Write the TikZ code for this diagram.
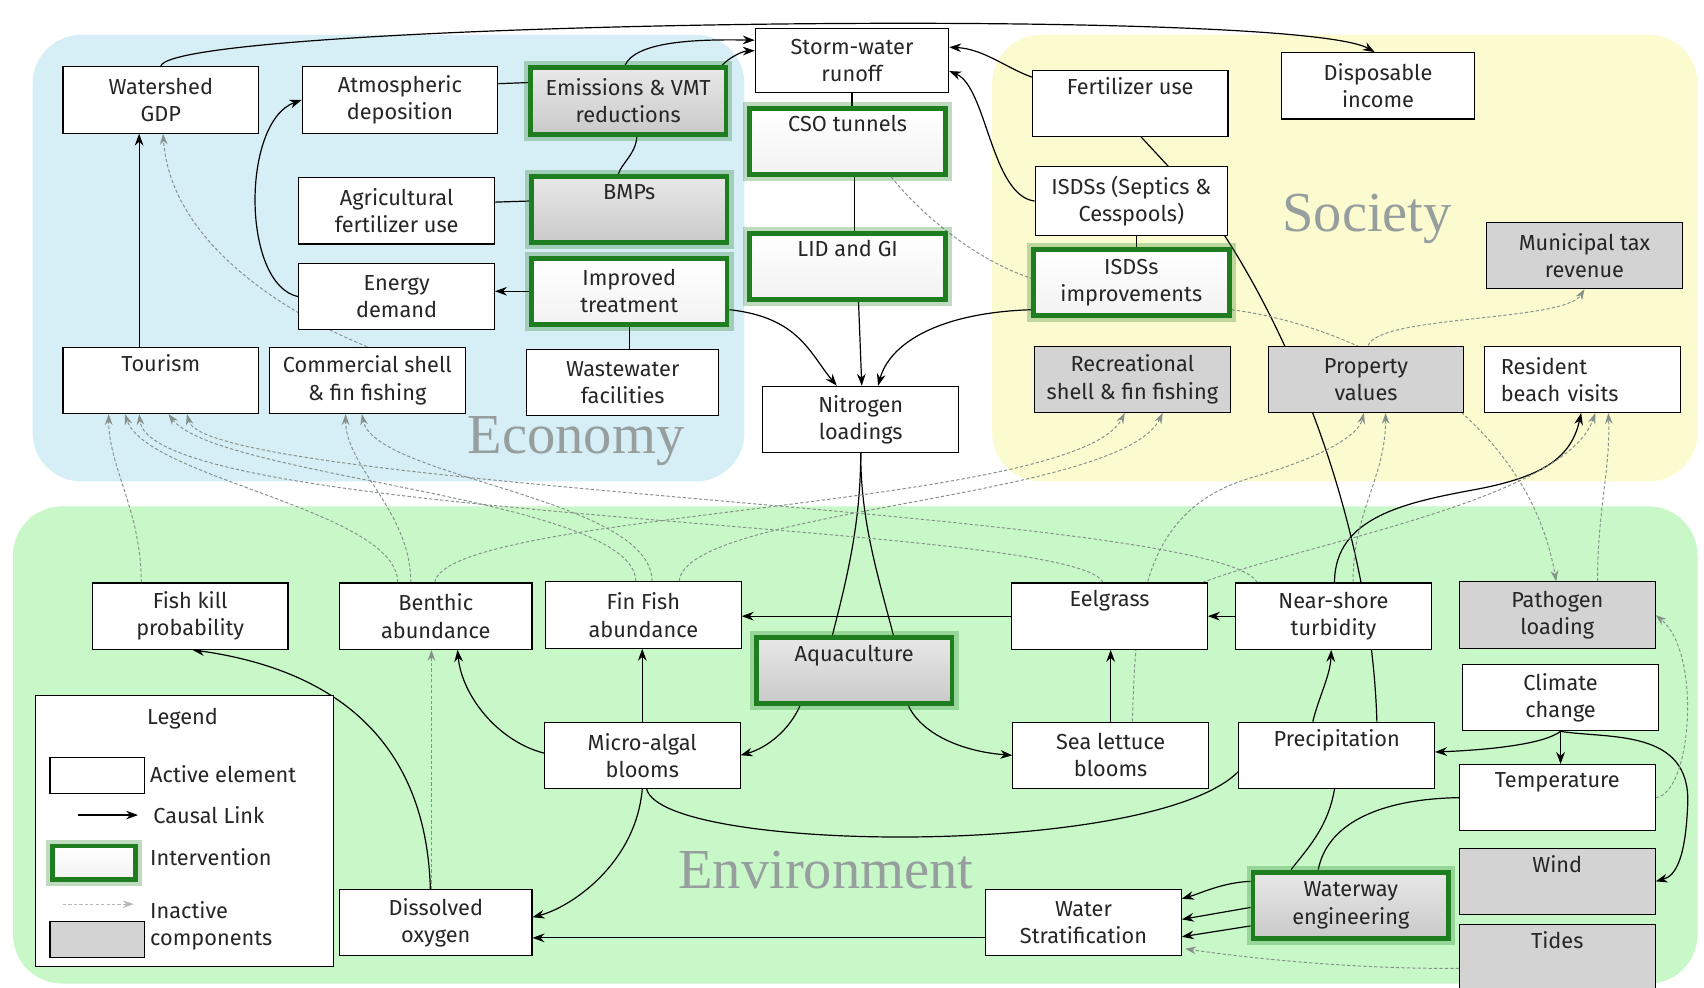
\documentclass[tikz,border=0pt]{standalone}
\usepackage{fontspec}
\setmainfont{Fira Sans}
\newfontfamily\regfont{Liberation Serif}
\usetikzlibrary{arrows.meta,calc}
\pgfdeclarelayer{bg}
\pgfdeclarelayer{edges}
\pgfsetlayers{bg,edges,main}
\definecolor{econ}{RGB}{214,238,245}
\definecolor{soc}{RGB}{252,251,208}
\definecolor{env}{RGB}{200,248,200}
\definecolor{inact}{RGB}{211,211,211}
\definecolor{dgray}{RGB}{135,145,140}
\definecolor{lbl}{RGB}{150,158,158}
\definecolor{ivgreen}{RGB}{30,125,30}
\tikzset{
 box/.style={draw=black, line width=1pt, fill=white, minimum width=180pt, minimum height=61pt, align=center, inner sep=1pt, font=\fontsize{20}{25}\selectfont, text=black!85},
 inbox/.style={box, fill=inact},
 interv/.style={box, draw=ivgreen, line width=4.5pt, minimum width=180pt, minimum height=61pt, preaction={draw=ivgreen, line width=12pt, draw opacity=0.28}},
 intw/.style={interv, top color=white, bottom color=gray!10},
 intg/.style={interv, top color=gray!18, bottom color=gray!42},
 causal/.style={draw=black, line width=1.1pt, -{Stealth[length=11pt,width=8pt]}},
 link/.style={draw=black, line width=1.1pt},
 inactive/.style={draw=dgray, line width=0.9pt, dash pattern=on 3pt off 2pt, -{Stealth[length=10pt,width=7pt]}},
 inline/.style={draw=dgray, line width=0.9pt, dash pattern=on 3pt off 2pt},
 reglabel/.style={font=\regfont\fontsize{52}{52}\selectfont, text=lbl},
 plain/.style={font=\fontsize{20}{25}\selectfont, text=black!85, inner sep=1pt},
}
\begin{document}
\begin{tikzpicture}[x=1pt,y=-1pt]
\useasboundingbox (0,0) rectangle (1568,909);
\begin{pgfonlayer}{bg}
\fill[white] (0,0) rectangle (1568,909);
\fill[econ, rounded corners=45pt] (30,32) rectangle (685,443);
\fill[soc, rounded corners=45pt] (913,32) rectangle (1562,443);
\fill[env, rounded corners=45pt] (12,466) rectangle (1562,905);
\end{pgfonlayer}
\node[reglabel] (econlbl) at (530,406) {Economy};
\node[reglabel] (soclbl) at (1258,201) {Society};
\node[reglabel] (envlbl) at (760,801) {Environment};

% Economy
\node[box] (gdp) at (148,92) {Watershed\\GDP};
\node[box] (atm) at (368,92) {Atmospheric\\deposition};
\node[intg] (emis) at (578,93) {Emissions \& VMT\\reductions};
\node[box, minimum width=178pt, minimum height=59pt] (storm) at (784,56) {Storm-water\\runoff};
\node[intw] (cso) at (780,130) {CSO tunnels\\\strut};
\node[box] (agri) at (365,194) {Agricultural\\fertilizer use};
\node[intg] (bmp) at (579,193) {BMPs\\\strut};
\node[intw] (lid) at (780,245) {LID and GI\\\strut};
\node[box] (energy) at (365,273) {Energy\\demand};
\node[intw] (impr) at (579,268) {Improved\\treatment};
\node[box] (tour) at (148,350) {Tourism\\\strut};
\node[box] (comm) at (338,350) {Commercial shell\\\& fin fishing};
\node[box, minimum width=177pt] (waste) at (573,352) {Wastewater\\facilities};
\node[box] (nitro) at (792,386) {Nitrogen\\loadings};

% Society
\node[box] (fert) at (1040,95) {Fertilizer use\\\strut};
\node[box, minimum width=177pt] (disp) at (1268,79) {Disposable\\income};
\node[box, minimum width=177pt, minimum height=63pt] (isds) at (1041,185) {ISDSs (Septics \&\\Cesspools)};
\node[intw] (isdsi) at (1041,260) {ISDSs\\improvements};
\node[inbox] (muni) at (1458,235) {Municipal tax\\revenue};
\node[inbox] (recr) at (1042,349) {Recreational\\shell \& fin fishing};
\node[inbox] (prop) at (1257,349) {Property\\values};
\node[box, text width=150pt, align=left] (resid) at (1456,349) {Resident\\beach visits};

% Environment
\node[box] (fish) at (175,567) {Fish kill\\probability};
\node[box, minimum width=177pt] (benth) at (401,567) {Benthic\\abundance};
\node[box] (finf) at (592,566) {Fin Fish\\abundance};
\node[intg] (aqua) at (786,617) {Aquaculture\\\strut};
\node[box] (eel) at (1021,567) {Eelgrass\\\strut};
\node[box] (near) at (1227,567) {Near-shore\\turbidity};
\node[inbox] (path) at (1433,566) {Pathogen\\loading};
\node[box] (clim) at (1436,642) {Climate\\change};
\node[box] (micro) at (591,695) {Micro-algal\\blooms};
\node[box] (sea) at (1022,695) {Sea lettuce\\blooms};
\node[box] (prec) at (1230,695) {Precipitation\\\strut};
\node[box] (temp) at (1433,734) {Temperature\\\strut};
\node[inbox] (wind) at (1433,811) {Wind\\\strut};
\node[inbox] (tides) at (1433,881) {Tides\\\strut};
\node[intg] (wway) at (1243,833) {Waterway\\engineering};
\node[box] (strat) at (997,849) {Water\\Stratification};
\node[box, minimum width=177pt] (dox) at (401,849) {Dissolved\\oxygen};

% Legend
\node[draw=black, line width=1pt, fill=white, minimum width=274pt, minimum height=249pt] (legend) at (170,764.5) {};
\node[plain] (legtitle) at (168,661) {Legend};
\node[box, minimum width=87pt, minimum height=33pt] (legact) at (89.5,713.5) {};
\node[plain, anchor=west] (legacttxt) at (137,712) {Active element};
\coordinate (lc1) at (72,750);
\coordinate (lc2) at (127,750);
\node[plain, anchor=west] (legcausal) at (140,750) {Causal Link};
\node[intw, minimum width=76pt, minimum height=31pt] (legint) at (86.5,794) {};
\node[plain, anchor=west] (leginttxt) at (137,789) {Intervention};
\coordinate (li1) at (58,832);
\coordinate (li2) at (123,832);
\node[inbox, minimum width=87pt, minimum height=33pt] (leginact) at (89.5,864.5) {};
\node[plain, anchor=west, align=left] (leginacttxt) at (137,852) {Inactive\\components};
\draw[causal] (lc1) -- (lc2);
\draw[inactive, draw=gray!55] (li1) -- (li2);

\begin{pgfonlayer}{edges}
% black causal links and plain links
\draw[causal] (gdp.north) .. controls (155,20) and (1190,5) .. ($(disp.north)+(-3,0)$);
\draw[causal] ($(emis.north)+(-3,0)$) .. controls (585,38) and (640,36) .. (storm.168);
\draw[causal] ($(emis.north east)+(-6,0)$) .. controls (672,52) and (684,47) .. (storm.174);
\draw[link] ($(atm.east)+(0,-15)$) -- ($(emis.west)+(0,-17)$);
\draw[link] ($(agri.east)+(0,-8)$) -- ($(bmp.west)+(0,-8)$);
\draw[link] ($(emis.south)+(8,0)$) .. controls (585,142) and (572,150) .. ($(bmp.north)+(-10,0)$);
\draw[link] (impr.south) -- (impr.south |- waste.north);
\draw[causal] (impr.west) -- (energy.east |- impr.west);
\draw[causal] (energy.west) .. controls (222,262) and (222,112) .. (atm.west);
\draw[causal] ($(tour.north)+(-20,0)$) -- ($(gdp.south)+(-20,0)$);
\draw[link] (storm.south) -- (storm.south |- cso.north);
\draw[link] ($(cso.south)+(6,0)$) -- ($(lid.north)+(6,0)$);
\draw[causal] ($(lid.south)+(10,0)$) -- ($(nitro.north)+(1,0)$);
\draw[causal] ($(impr.east)+(0,17)$) .. controls (735,292) and (745,325) .. ($(nitro.north)+(-22,0)$);
\draw[causal] ($(isdsi.west)+(0,25)$) .. controls (860,288) and (818,318) .. ($(nitro.north)+(16,0)$);
\draw[causal] ($(fert.west)+(0,-24)$) .. controls (925,62) and (905,45) .. (storm.8);
\draw[causal] (isds.west) .. controls (912,180) and (908,80) .. (storm.-6);
\draw[link] ($(fert.south)+(10,0)$) -- ($(isds.north)+(34,0)$);
\draw[link] ($(isds.south)+(5,0)$) -- ($(isdsi.north)+(5,0)$);
\draw[link] ($(isds.south east)+(-3,0)$) .. controls (1200,330) and (1262,500) .. ($(prec.north)+(37,0)$);
\draw[link] (nitro.south) .. controls (792,480) and (780,530) .. ($(aqua.north)+(-20,0)$);
\draw[link] (nitro.south) .. controls (792,480) and (808,530) .. ($(aqua.north)+(36,0)$);
\draw[causal] ($(aqua.south)+(-50,0)$) .. controls (726,672) and (706,688) .. (micro.east);
\draw[causal] ($(aqua.south)+(50,0)$) .. controls (850,678) and (890,692) .. (sea.west);
\draw[causal] (eel.west) -- (eel.west -| finf.east);
\draw[causal] (near.west) -- (near.west -| eel.east);
\draw[causal] (sea.north) -- (sea.north |- eel.south);
\draw[causal] ($(prec.north)+(-22,0)$) .. controls (1214,640) and (1224,622) .. ($(near.south)+(-2,0)$);
\draw[causal] (clim.south) .. controls (1420,685) and (1370,690) .. ($(prec.east)+(0,-3)$);
\draw[causal] (clim.south) -- (clim.south |- temp.north);
\draw[causal] (clim.south) .. controls (1480,680) and (1556,670) .. (1553,740) .. controls (1551,790) and (1542,806) .. (wind.east);
\draw[causal] (micro.north) -- (micro.north |- finf.south);
\draw[causal] ($(micro.west)+(0,-2)$) .. controls (458,682) and (425,640) .. ($(benth.south)+(20,0)$);
\draw[causal] (micro.south) .. controls (585,795) and (525,835) .. ($(dox.east)+(0,-5)$);
\draw[link] ($(micro.south)+(4,0)$) .. controls (610,785) and (1060,790) .. ($(prec.west)+(0,15)$);
\draw[causal] ($(dox.north)+(-5,0)$) .. controls (392,675) and (300,615) .. ($(fish.south)+(2,0)$);
\draw[inactive] ($(dox.north)+(-4,0)$) -- ($(benth.south)+(-4,0)$);
\draw[causal] ($(strat.west)+(0,14)$) -- ($(strat.west -| dox.east)+(0,14)$);
\draw[causal] ($(wway.west)+(0,-22)$) .. controls (1125,812) and (1105,822) .. ($(strat.east)+(0,-22)$);
\draw[causal] ($(wway.west)+(0,2)$) -- ($(strat.east)+(0,-3)$);
\draw[causal] ($(wway.west)+(0,19)$) -- ($(strat.east)+(0,13)$);
\draw[link] ($(prec.south)+(-2,0)$) .. controls (1222,762) and (1202,782) .. ($(wway.north)+(-55,0)$);
\draw[link] (temp.west) .. controls (1275,735) and (1222,755) .. ($(wway.north)+(-30,0)$);
\draw[causal] ($(near.north)+(1,0)$) .. controls (1228,475) and (1295,462) .. (1360,450) .. controls (1422,438) and (1446,420) .. ($(resid.south)+(-1,0)$);

% inactive (dashed) links
\draw[inactive] ($(tides.west)+(0,10)$) .. controls (1250,892) and (1150,882) .. ($(strat.east)+(3,24)$);
\draw[inactive] (temp.east) .. controls (1557,730) and (1566,600) .. (path.east);
\draw[inactive] ($(prop.north)+(2,0)$) .. controls (1268,290) and (1440,296) .. (muni.south);
\draw[inactive] ($(isdsi.east)+(0,25)$) .. controls (1250,300) and (1405,380) .. ($(path.north)+(-1,0)$);
\draw[inline] ($(cso.south)+(40,0)$) .. controls (850,200) and (900,240) .. ($(isdsi.west)+(0,-4)$);
\draw[inactive] (comm.north) .. controls (290,300) and (158,235) .. ($(gdp.south)+(2,0)$);
\draw[inactive] ($(fish.north)+(-45,0)$) .. controls (130,470) and (100,430) .. ($(tour.south)+(-48,0)$);
\draw[inactive] ($(benth.north)+(-35,0)$) .. controls (366,470) and (135,440) .. ($(tour.south)+(-33,0)$);
\draw[inactive] ($(benth.north)+(-23,0)$) .. controls (378,470) and (318,430) .. ($(comm.south)+(-20,0)$);
\draw[inactive] ($(benth.north)+(-1,0)$) .. controls (410,470) and (990,468) .. ($(recr.south)+(-7,0)$);
\draw[inactive] ($(finf.north)+(-7,0)$) .. controls (585,458) and (200,440) .. ($(tour.south)+(7,0)$);
\draw[inactive] ($(finf.north)+(8,0)$) .. controls (600,458) and (345,440) .. ($(comm.south)+(-5,0)$);
\draw[inactive] ($(finf.north)+(33,0)$) .. controls (630,468) and (1030,460) .. ($(recr.south)+(28,0)$);
\draw[inactive] ($(eel.north)+(-6,0)$) .. controls (990,480) and (140,480) .. ($(tour.south)+(-20,0)$);
\draw[inactive] ($(near.north)+(-70,0)$) .. controls (1120,470) and (190,450) .. ($(tour.south)+(24,0)$);
\draw[inactive] ($(sea.north)+(20,0)$) .. controls (1045,560) and (1050,470) .. (1150,440) .. controls (1220,420) and (1250,400) .. ($(prop.south)+(-2,0)$);
\draw[inactive] ($(near.north)+(18,0)$) .. controls (1245,470) and (1275,440) .. ($(prop.south)+(18,0)$);
\draw[inactive] ($(eel.north east)+(-5,0)$) .. controls (1200,500) and (1440,460) .. ($(resid.south)+(12,0)$);
\draw[inactive] ($(path.north)+(37,0)$) .. controls (1470,470) and (1482,430) .. ($(resid.south)+(24,0)$);
\end{pgfonlayer}
\end{tikzpicture}
\end{document}
